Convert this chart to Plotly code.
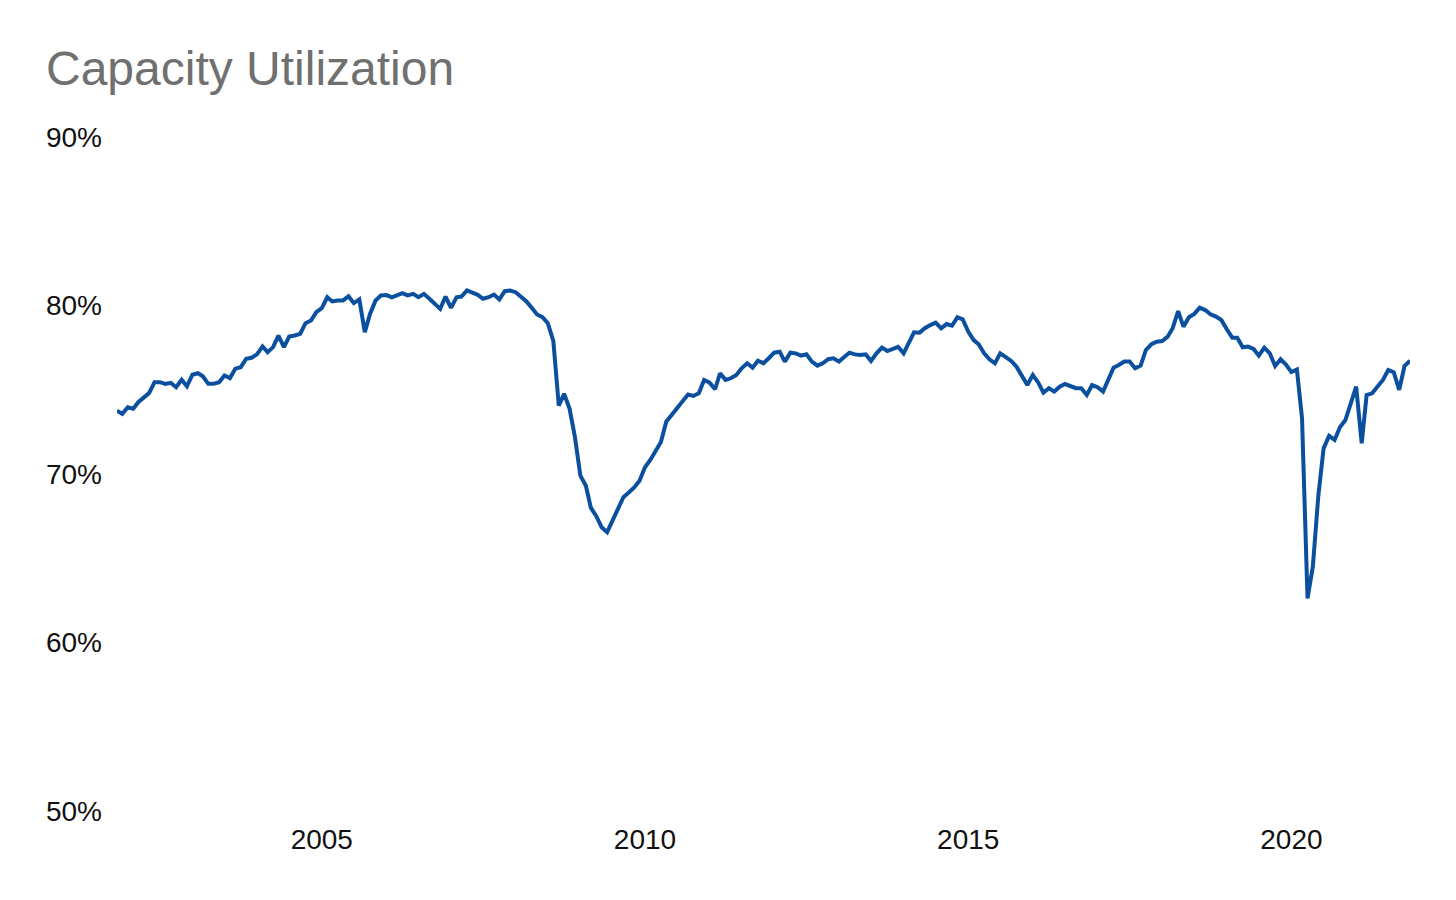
import pandas as pd
import plotly.graph_objects as go

title_text = "Capacity Utilization"
start_month = "2001-11-01"

utilization = [
    73.76, 73.57, 73.96, 73.87, 74.26, 74.52, 74.80, 75.45, 75.45, 75.35,
    75.41, 75.15, 75.59, 75.20, 75.89, 75.98, 75.80, 75.35, 75.35, 75.45,
    75.85, 75.69, 76.25, 76.34, 76.84, 76.90, 77.10, 77.57, 77.23, 77.53,
    78.22, 77.53, 78.16, 78.22, 78.32, 78.95, 79.11, 79.60, 79.84, 80.49,
    80.24, 80.30, 80.30, 80.55, 80.14, 80.36, 78.42, 79.51, 80.30, 80.60,
    80.62, 80.48, 80.60, 80.73, 80.60, 80.69, 80.49, 80.69, 80.40, 80.10,
    79.80, 80.53, 79.86, 80.49, 80.53, 80.89, 80.75, 80.63, 80.40, 80.49,
    80.65, 80.36, 80.85, 80.89, 80.79, 80.53, 80.26, 79.86, 79.47, 79.31,
    78.95, 77.90, 74.06, 74.76, 73.87, 72.20, 69.90, 69.30, 68.00, 67.50,
    66.84, 66.55, 67.25, 67.93, 68.62, 68.90, 69.20, 69.60, 70.40, 70.85,
    71.40, 71.90, 73.10, 73.50, 73.90, 74.30, 74.72, 74.63, 74.79, 75.58,
    75.42, 75.03, 75.98, 75.58, 75.68, 75.88, 76.27, 76.57, 76.31, 76.72,
    76.57, 76.87, 77.20, 77.26, 76.67, 77.20, 77.16, 77.02, 77.10, 76.67,
    76.43, 76.57, 76.81, 76.87, 76.67, 76.96, 77.20, 77.10, 77.06, 77.10,
    76.71, 77.16, 77.50, 77.30, 77.46, 77.55, 77.16, 77.76, 78.41, 78.39,
    78.65, 78.84, 78.98, 78.65, 78.90, 78.80, 79.30, 79.18, 78.45, 77.95,
    77.70, 77.16, 76.81, 76.57, 77.16, 76.93, 76.71, 76.37, 75.82, 75.28,
    75.88, 75.42, 74.83, 75.09, 74.89, 75.18, 75.34, 75.22, 75.09, 75.09,
    74.69, 75.28, 75.15, 74.89, 75.60, 76.31, 76.47, 76.67, 76.67, 76.27,
    76.43, 77.36, 77.70, 77.85, 77.89, 78.15, 78.65, 79.67, 78.74, 79.30,
    79.50, 79.87, 79.73, 79.48, 79.34, 79.14, 78.59, 78.09, 78.09, 77.52,
    77.56, 77.42, 77.02, 77.50, 77.16, 76.41, 76.81, 76.50, 76.05, 76.20,
    73.31, 62.62, 64.50, 68.70, 71.52, 72.26, 72.02, 72.77, 73.20, 74.10,
    75.18, 71.82, 74.69, 74.79, 75.18, 75.58, 76.17, 76.04, 74.99, 76.41,
    76.72,
]

months = pd.date_range(start_month, periods=len(utilization), freq="MS")

y_ticks = [50, 60, 70, 80, 90]
x_tick_years = [2005, 2010, 2015, 2020]

fig = go.Figure()
fig.add_trace(go.Scatter(
    x=months, y=utilization, mode="lines",
    line=dict(color="#0B4F9F", width=4),
    hoverinfo="x+y",
))

fig.update_layout(
    width=1456, height=900,
    paper_bgcolor="white", plot_bgcolor="white",
    margin=dict(l=109, r=54, t=129, b=97),
    showlegend=False,
    font=dict(family="Liberation Sans, Arial, sans-serif", size=28, color="#111111"),
    title=dict(
        text=title_text,
        x=38 / 1456, xanchor="left", xref="container",
        y=1 - 60 / 900, yanchor="middle", yref="container",
        font=dict(size=48, color="#707070", family="Liberation Sans, Arial, sans-serif"),
    ),
)

fig.update_xaxes(
    range=[months[0], months[-1]],
    tickvals=[pd.Timestamp(f"{y}-01-01") for y in x_tick_years],
    ticktext=[str(y) for y in x_tick_years],
    showgrid=False, zeroline=False, showline=False,
    ticks="", ticklabelstandoff=9,
)
fig.update_yaxes(
    range=[50, 90],
    tickvals=y_ticks,
    ticktext=[f"{v}%" for v in y_ticks],
    showgrid=False, zeroline=False, showline=False,
    ticks="", ticklabelstandoff=14,
)

fig.write_html("out.html")
